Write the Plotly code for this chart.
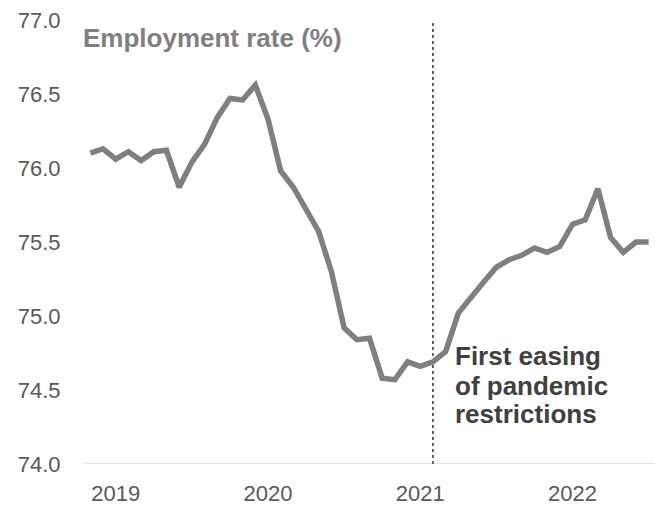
import plotly.graph_objects as go
import pandas as pd

# Monthly employment rate (%), Nov 2018 - Jul 2022
months = pd.period_range("2018-11", "2022-07", freq="M").strftime("%Y-%m").tolist()
employment_rate = [
    76.10, 76.13, 76.06, 76.11, 76.05, 76.11, 76.12, 75.87, 76.04, 76.16,
    76.34, 76.47, 76.46, 76.56, 76.33, 75.98, 75.87, 75.72, 75.57, 75.30,
    74.92, 74.84, 74.85, 74.58, 74.57, 74.69, 74.66, 74.69, 74.76, 75.02,
    75.13, 75.23, 75.33, 75.38, 75.41, 75.46, 75.43, 75.47, 75.62, 75.65,
    75.86, 75.53, 75.43, 75.50, 75.50,
]

year_ticks = ["2019-01", "2020-01", "2021-01", "2022-01"]
year_labels = ["2019", "2020", "2021", "2022"]
y_ticks = [74.0, 74.5, 75.0, 75.5, 76.0, 76.5, 77.0]

easing_month = "2021-02"
easing_lines = ["First easing", "of pandemic", "restrictions"]
easing_line_y = [74.73, 74.53, 74.34]
y_min, y_max = 74.0, 77.0

FONT = "Liberation Sans, Arial, sans-serif"

fig = go.Figure()

# Marker for the first easing of restrictions
fig.add_trace(go.Scatter(
    x=[easing_month, easing_month], y=[y_min, y_max],
    mode="lines", line=dict(color="#333333", width=1.5, dash="3px,3px"),
    hoverinfo="skip", showlegend=False,
))

fig.add_trace(go.Scatter(
    x=months, y=employment_rate, mode="lines",
    line=dict(color="#7f7f7f", width=5.5, shape="linear"),
    showlegend=False,
))

fig.add_annotation(
    xref="paper", yref="y", x=0, y=76.88, xshift=-3,
    text="<b>Employment rate (%)</b>", showarrow=False,
    xanchor="left", yanchor="middle",
    font=dict(family=FONT, size=26, color="#7f7f7f"),
)

# Callout text, one line at a time for tight line spacing
for line_text, line_y in zip(easing_lines, easing_line_y):
    fig.add_annotation(
        x=easing_month, y=line_y, xref="x", yref="y", xshift=20,
        text=f"<b>{line_text}</b>", showarrow=False,
        xanchor="left", yanchor="middle", align="left",
        font=dict(family=FONT, size=26, color="#404040"),
    )

fig.update_layout(
    width=655, height=506,
    margin=dict(l=84, r=0, t=20, b=37),
    plot_bgcolor="white", paper_bgcolor="white",
    font=dict(family=FONT, size=22, color="#595959"),
)

fig.update_xaxes(
    type="category", categoryorder="array", categoryarray=months,
    range=[-0.5, len(months) - 0.5],
    tickmode="array", tickvals=year_ticks, ticktext=year_labels,
    showgrid=False, zeroline=False, showline=False,
    ticks="outside", ticklen=10, tickcolor="rgba(0,0,0,0)",
)

fig.update_yaxes(
    range=[y_min, y_max], tickmode="array", tickvals=y_ticks,
    tickformat=".1f",
    showgrid=False, zeroline=False, showline=False,
    ticks="outside", ticklen=18, tickcolor="rgba(0,0,0,0)",
)

# Light baseline along the bottom of the value range
fig.add_shape(
    type="line", xref="paper", yref="y", x0=0, x1=1, y0=y_min, y1=y_min,
    line=dict(color="#d9d9d9", width=1.5), layer="below",
)

fig.write_html("out.html")
